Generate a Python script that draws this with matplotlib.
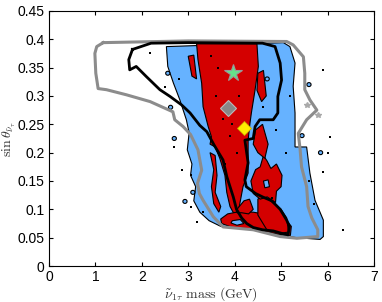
import numpy as np
import matplotlib.pyplot as plt
from matplotlib.patches import Polygon, Ellipse

plt.rcParams['mathtext.fontset'] = 'cm'
plt.rcParams['font.family'] = ['Liberation Sans', 'DejaVu Sans']

# contour outlines, (mass GeV, sin theta)
gray_x = [1.17, 1.03, 0.99, 1.01, 1.06, 1.24, 1.67, 2.18, 2.67, 2.71, 2.89, 3.05, 3.21, 3.29, 3.20,
          3.24, 3.32, 3.54, 3.75, 4.40, 4.98, 5.34, 5.79, 5.79, 5.66, 5.58, 5.55, 5.44, 5.41,
          5.37, 5.55, 5.77, 5.62, 5.51, 5.51, 5.48, 5.26, 5.12, 3.0, 1.17]
gray_y = [0.394, 0.387, 0.375, 0.340, 0.313, 0.311, 0.302, 0.290, 0.272, 0.258, 0.246, 0.232, 0.205, 0.169, 0.146,
          0.128, 0.116, 0.087, 0.069, 0.064, 0.052, 0.049, 0.052, 0.064, 0.085, 0.105, 0.140, 0.175, 0.205,
          0.234, 0.258, 0.275, 0.293, 0.311, 0.340, 0.369, 0.390, 0.396, 0.397, 0.394]

black_x = [1.80, 1.72, 1.74, 1.88, 2.10, 2.39, 2.61, 2.86, 3.04, 3.25, 3.40, 3.56, 3.75, 3.83, 3.97,
           4.04, 4.15, 4.26, 4.40, 4.60, 4.83, 5.00, 5.15, 5.18, 5.12, 4.98, 4.80, 4.60, 4.45, 4.25,
           4.22, 4.29, 4.22, 4.40, 4.44, 4.54, 4.83, 4.93, 4.93, 5.01, 4.98, 4.87, 4.60, 3.00, 2.20, 1.80]
black_y = [0.382, 0.364, 0.346, 0.352, 0.334, 0.311, 0.299, 0.284, 0.270, 0.248, 0.237, 0.213, 0.187, 0.158, 0.122,
           0.100, 0.085, 0.075, 0.068, 0.064, 0.062, 0.058, 0.055, 0.070, 0.081, 0.100, 0.115, 0.122, 0.128, 0.140,
           0.152, 0.182, 0.222, 0.225, 0.246, 0.258, 0.258, 0.270, 0.299, 0.328, 0.358, 0.387, 0.393, 0.394, 0.393, 0.382]

blue_x = [2.53, 2.56, 2.68, 2.82, 2.96, 3.02, 2.98, 3.08, 3.05, 3.16, 3.12, 3.25, 3.45, 3.70, 4.40,
          4.98, 5.34, 5.84, 5.91, 5.91, 5.73, 5.62, 5.55, 5.30, 5.30, 5.26, 5.30, 5.19, 5.05]
blue_y = [0.387, 0.352, 0.323, 0.293, 0.258, 0.235, 0.205, 0.180, 0.160, 0.140, 0.115, 0.095, 0.080, 0.070, 0.066,
          0.054, 0.050, 0.047, 0.052, 0.081, 0.116, 0.164, 0.210, 0.210, 0.270, 0.317, 0.358, 0.387, 0.394]

# red regions
red_tongue_x = [3.18, 3.21, 3.29, 3.32, 3.43, 3.50, 3.47, 3.58, 3.68, 3.79, 3.83, 3.90, 4.00, 4.10, 4.18,
                4.29, 4.29, 4.29, 4.33, 4.36, 4.44, 4.51, 4.48]
red_tongue_y = [0.392, 0.364, 0.322, 0.281, 0.246, 0.228, 0.215, 0.210, 0.190, 0.160, 0.130, 0.105, 0.090, 0.105, 0.140,
                0.164, 0.200, 0.222, 0.252, 0.270, 0.311, 0.352, 0.392]
red_bottom_x = [3.72, 3.95, 4.30, 4.60, 4.95, 5.20, 5.22, 5.10, 4.75, 4.40, 4.10, 3.85, 3.70]
red_bottom_y = [0.075, 0.068, 0.066, 0.062, 0.056, 0.054, 0.070, 0.082, 0.090, 0.095, 0.096, 0.092, 0.083]
red_blob_x = [4.50, 4.61, 4.85, 5.00, 5.12, 5.16, 5.00, 4.70, 4.50]
red_blob_y = [0.118, 0.125, 0.110, 0.100, 0.085, 0.060, 0.058, 0.063, 0.090]
red_right_x = [4.35, 4.45, 4.55, 4.62, 4.70, 4.78, 4.90, 5.02, 5.00, 4.90, 4.88, 4.70, 4.55, 4.40]
red_right_y = [0.150, 0.170, 0.175, 0.195, 0.185, 0.172, 0.180, 0.160, 0.140, 0.132, 0.112, 0.122, 0.118, 0.128]
red_mid_x = [4.05, 4.20, 4.32, 4.40, 4.30, 4.15, 4.05]
red_mid_y = [0.100, 0.115, 0.118, 0.100, 0.092, 0.094, 0.094]
red_left_x = [3.47, 3.58, 3.62, 3.58, 3.70, 3.66, 3.55, 3.50, 3.55]
red_left_y = [0.200, 0.195, 0.160, 0.130, 0.105, 0.095, 0.110, 0.140, 0.170]
red_streak1_x = [4.50, 4.62, 4.68, 4.58, 4.48]
red_streak1_y = [0.340, 0.345, 0.300, 0.290, 0.310]
red_streak2_x = [4.45, 4.60, 4.72, 4.65, 4.50, 4.40]
red_streak2_y = [0.240, 0.250, 0.215, 0.190, 0.200, 0.215]
red_streak3_x = [3.00, 3.12, 3.18, 3.08]
red_streak3_y = [0.370, 0.372, 0.330, 0.335]

# blue holes inside red
hole1_x = [3.95, 4.12, 4.20, 4.05, 3.92]
hole1_y = [0.080, 0.082, 0.075, 0.072, 0.076]
hole2_x = [4.62, 4.72, 4.75, 4.65]
hole2_y = [0.150, 0.152, 0.140, 0.138]

# speckles
dot_x = [2.18, 2.50, 2.86, 3.07, 3.07, 3.18, 3.32, 5.91, 6.05, 6.34, 6.02, 5.91, 3.60, 3.75, 3.90, 4.05,
         3.65, 4.10, 3.80, 4.60, 5.10, 5.20, 4.80, 3.50, 2.70, 2.80, 5.60, 5.70, 4.90, 3.95]
dot_y = [0.375, 0.316, 0.169, 0.161, 0.105, 0.078, 0.096, 0.345, 0.228, 0.064, 0.199, 0.166, 0.300, 0.260, 0.230, 0.200,
         0.350, 0.300, 0.180, 0.280, 0.200, 0.300, 0.120, 0.370, 0.210, 0.330, 0.150, 0.110, 0.240, 0.250]
blob_x = [2.56, 2.93, 2.70, 3.10, 5.60, 5.45, 4.00, 3.65, 4.70, 5.85, 2.62]
blob_y = [0.340, 0.114, 0.225, 0.130, 0.320, 0.230, 0.160, 0.240, 0.330, 0.200, 0.280]

star_x, star_y = 3.97, 0.340
gray_dia = (3.85, 0.278)
yellow_dia = (4.20, 0.243)
small_star_x = [5.55, 5.80]
small_star_y = [0.284, 0.266]

fig = plt.figure(figsize=(3.82, 3.02), dpi=100)
ax = fig.add_axes([0.128, 0.119, 0.851, 0.845])

def poly(xs, ys, face, lw=0.8, z=2):
    ax.add_patch(Polygon(np.column_stack([xs, ys]), closed=True, facecolor=face,
                         edgecolor='black', linewidth=lw, zorder=z))

poly(blue_x, blue_y, '#66b2ff', z=2)
for bx, by in zip(blob_x, blob_y):
    ax.add_patch(Ellipse((bx, by), 0.09, 0.007, facecolor='#66b2ff', edgecolor='black', lw=0.8, zorder=2))
for rx, ry in [(red_tongue_x, red_tongue_y), (red_bottom_x, red_bottom_y), (red_blob_x, red_blob_y),
               (red_right_x, red_right_y), (red_mid_x, red_mid_y), (red_left_x, red_left_y),
               (red_streak1_x, red_streak1_y), (red_streak2_x, red_streak2_y), (red_streak3_x, red_streak3_y)]:
    poly(rx, ry, '#d40000', z=3)
poly(hole1_x, hole1_y, '#66b2ff', z=3.5)
poly(hole2_x, hole2_y, '#66b2ff', z=3.5)
ax.scatter(dot_x, dot_y, s=3, c='black', marker='s', zorder=4, linewidths=0)

ax.plot(gray_x, gray_y, color='#8c8c8c', lw=2.2, zorder=5, solid_joinstyle='round')
ax.plot(black_x, black_y, color='black', lw=2.0, zorder=6, solid_joinstyle='round')

ax.plot(star_x, star_y, marker='*', ms=13, mfc='#66e08a', mec='#999999', mew=0.8, zorder=7)
ax.plot(*gray_dia, marker='D', ms=8, mfc='#888888', mec='#bbbbbb', mew=0.8, zorder=7)
ax.plot(*yellow_dia, marker='D', ms=7, mfc='#ffee00', mec='#ccaa00', mew=0.6, zorder=7)
ax.plot(small_star_x, small_star_y, '*', ms=4, color='#aaaaaa', zorder=7, ls='none')

ax.set_xlim(0, 7)
ax.set_ylim(0, 0.45)
ax.set_xticks(range(8))
ax.set_yticks(np.arange(0, 0.451, 0.05))
ax.set_yticklabels(['0', '0.05', '0.1', '0.15', '0.2', '0.25', '0.3', '0.35', '0.4', '0.45'])
ax.tick_params(direction='in', top=True, right=True, length=3, labelsize=10, pad=3)
ax.set_xlabel(r'$\tilde{\nu}_{1\tau}\ \mathrm{mass\ (GeV)}$', fontsize=10, color='#333333', labelpad=1)
ax.set_ylabel(r'$\sin\theta_{\tilde{\nu}_\tau}$', fontsize=10, color='#333333')
ax.yaxis.set_label_coords(-0.095, 0.5)

fig.savefig('out.png', dpi=100)
